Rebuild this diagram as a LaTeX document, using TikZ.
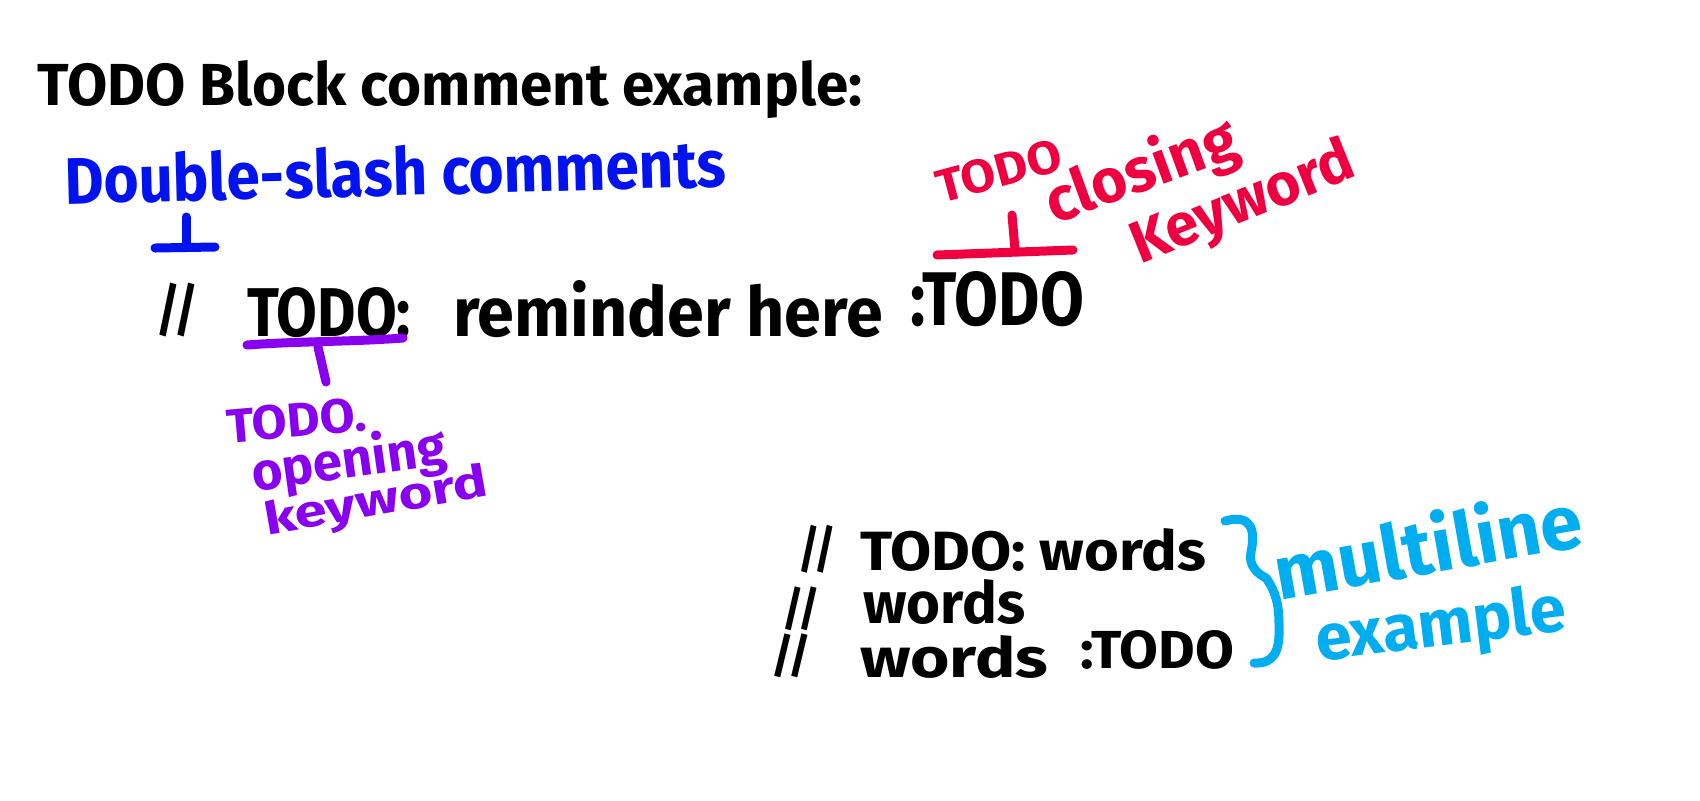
\documentclass[tikz,border=0pt]{standalone}
\usepackage{graphicx}
\usepackage{fontspec}
\setmainfont{Fira Sans}
\definecolor{cblue}{RGB}{0,18,238}
\definecolor{cpurple}{RGB}{136,0,238}
\definecolor{cred}{RGB}{238,0,64}
\definecolor{ccyan}{RGB}{0,174,239}
\tikzset{
  lbl/.style={inner sep=0pt, outer sep=0pt, font=\bfseries},
  conn/.style={line width=4.5pt, line cap=round, line join=round},
}
\begin{document}
\begin{tikzpicture}[x=0.5pt,y=-0.5pt]
\useasboundingbox (0,0) rectangle (1700,800);
\fill[white] (0,0) rectangle (1700,800);

% title
\node[lbl, anchor=base west] (title) at (38,105) {\resizebox{412pt}{22.5pt}{TODO Block comment example:}};

% blue label
\node[lbl, anchor=base west, rotate=1.5, text=cblue] (dsc) at (65,204) {\resizebox{331pt}{25pt}{Double-slash comments}};

% main line
\node[lbl, anchor=south west] (sl) at (156,337) {\resizebox*{21pt}{27pt}{//}};
\node[lbl, anchor=base west] (open) at (247,336) {\resizebox{82pt}{24.5pt}{TODO:}};
\node[lbl, anchor=base west] (rem) at (453,336) {\resizebox{215pt}{28pt}{reminder here}};
\node[lbl, anchor=base west] (close) at (910,325) {\resizebox{87pt}{27pt}{:TODO}};

% blue marker
\coordinate (bt1) at (186,217);
\coordinate (bt2) at (186,247);
\coordinate (bb1) at (155,248);
\coordinate (bb2) at (215,247);
\draw[conn, cblue] (bt1) -- (bt2);
\draw[conn, cblue] (bb1) -- (bb2);

% purple marker
\coordinate (pb1) at (247,345);
\coordinate (pb2) at (403,338);
\coordinate (pt1) at (318,347);
\coordinate (pt2) at (326,382);
\draw[conn, cpurple] (pb1) .. controls (300,341) and (350,342) .. (pb2);
\draw[conn, cpurple] (pt1) -- (pt2);

% purple labels
\node[lbl, anchor=base west, rotate=5, text=cpurple] (po1) at (228,443) {\resizebox{70pt}{17pt}{TODO.}};
\node[lbl, anchor=base west, rotate=8, text=cpurple] (po2) at (254,491) {\resizebox{98pt}{!}{opening}};
\node[lbl, anchor=base west, rotate=10, text=cpurple] (po3) at (267,535) {\resizebox{113pt}{17pt}{keyword}};

% red marker
\coordinate (rb1) at (937,255);
\coordinate (rb2) at (1073,250);
\coordinate (rt1) at (1012,215);
\coordinate (rt2) at (1015,250);
\draw[conn, cred] (rb1) -- (rb2);
\draw[conn, cred] (rt1) -- (rt2);

% red labels
\node[lbl, anchor=base west, rotate=15, text=cred] (rc1) at (941,203) {\resizebox{64pt}{16.5pt}{TODO}};
\node[lbl, anchor=base west, rotate=20, text=cred] (rc2) at (1054,224) {\resizebox{100pt}{!}{closing}};
\node[lbl, anchor=base west, rotate=22, text=cred] (rc3) at (1140,264) {\resizebox{118pt}{!}{Keyword}};

% multiline block
\node[lbl, anchor=south west] (m1s) at (798,573) {\resizebox*{19pt}{24pt}{//}};
\node[lbl, anchor=base west] (m1t) at (860,570) {\resizebox{173pt}{21pt}{TODO: words}};
\node[lbl, anchor=south west] (m2s) at (782,631) {\resizebox*{19pt}{22pt}{//}};
\node[lbl, anchor=base west] (m2t) at (863,623) {\resizebox{81pt}{22pt}{words}};
\node[lbl, anchor=south west] (m3s) at (771,678) {\resizebox*{20pt}{22pt}{//}};
\node[lbl, anchor=base west] (m3t) at (860,677) {\resizebox{94pt}{21pt}{words}};
\node[lbl, anchor=base west] (m3c) at (1080,668) {\resizebox{77pt}{19pt}{:TODO}};

% brace
\draw[conn, ccyan] (1225,521) .. controls (1250,514) and (1256,528) .. (1251,552)
  .. controls (1248,566) and (1258,574) .. (1266,578)
  .. controls (1276,592) and (1279,605) .. (1279,625)
  .. controls (1280,650) and (1275,664) .. (1254,663);

% cyan labels
\node[lbl, anchor=base west, rotate=10, text=ccyan] (cy1) at (1279,600) {\resizebox{156pt}{!}{multiline}};
\node[lbl, anchor=base west, rotate=7, text=ccyan] (cy2) at (1318,661) {\resizebox{126pt}{!}{example}};
\end{tikzpicture}
\end{document}
